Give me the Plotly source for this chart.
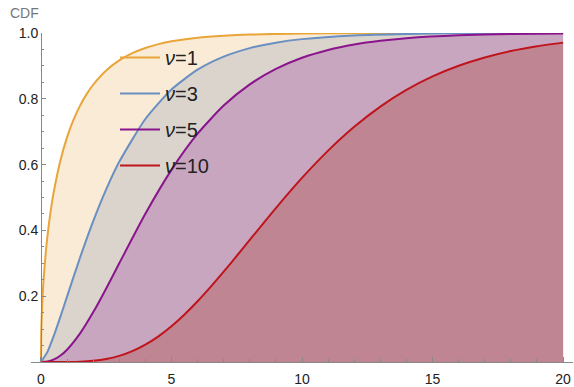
import plotly.graph_objects as go

# Values (CDF curves for nu = 1, 3, 5, 10)
x_nu1 = [0, 0.01, 0.02, 0.05, 0.1, 0.2, 0.3, 0.4, 0.5, 0.75, 1, 1.25, 1.5, 1.75, 2, 2.5, 3, 3.5, 4, 4.5, 5, 6, 7, 8, 9, 10, 12, 14, 16, 18, 20]
y_nu1 = [0, 0.0797, 0.1125, 0.1769, 0.2482, 0.3453, 0.4161, 0.4729, 0.5205, 0.6135, 0.6827, 0.7364, 0.7793, 0.8142, 0.8427, 0.8862, 0.9167, 0.9387, 0.9545, 0.9661, 0.9747, 0.9857, 0.9918, 0.9953, 0.9973, 0.9984, 0.9995, 0.9998, 0.9999, 1.0, 1.0]

x_nu3 = [0, 0.25, 0.5, 0.75, 1, 1.5, 2, 2.5, 3, 4, 5, 6, 7, 8, 9, 10, 12, 14, 16, 18, 20]
y_nu3 = [0, 0.0308, 0.0811, 0.1386, 0.1987, 0.3177, 0.4276, 0.5248, 0.6084, 0.7385, 0.8282, 0.8884, 0.9281, 0.9540, 0.9707, 0.9814, 0.9926, 0.9971, 0.9989, 0.9996, 0.9998]

x_nu5 = [0, 0.25, 0.5, 0.75, 1, 1.5, 2, 2.5, 3, 4, 5, 6, 7, 8, 9, 10, 11, 12, 13, 14, 16, 18, 20]
y_nu5 = [0, 0.0015, 0.0079, 0.0199, 0.0374, 0.0869, 0.1509, 0.2236, 0.3000, 0.4506, 0.5841, 0.6938, 0.7794, 0.8438, 0.8909, 0.9247, 0.9486, 0.9652, 0.9766, 0.9844, 0.9932, 0.9971, 0.9988]

x_nu10 = [0, 0.5, 1, 1.5, 2, 2.5, 3, 3.5, 4, 4.5, 5, 5.5, 6, 6.5, 7, 7.5, 8, 9, 10, 11, 12, 13, 14, 15, 16, 17, 18, 19, 20]
y_nu10 = [0, 0.00001, 0.00017, 0.00106, 0.00366, 0.00912, 0.01858, 0.03289, 0.05265, 0.07801, 0.10882, 0.14462, 0.18474, 0.22835, 0.27456, 0.32244, 0.37116, 0.46790, 0.55951, 0.64248, 0.71494, 0.77633, 0.82701, 0.86794, 0.90037, 0.92564, 0.94504, 0.95974, 0.97075]

series = [
    ("<i>ν</i>=1", x_nu1, y_nu1, "#E8A53A", "#FAEBD7"),
    ("<i>ν</i>=3", x_nu3, y_nu3, "#6A8FC2", "#DAD4CD"),
    ("<i>ν</i>=5", x_nu5, y_nu5, "#8A148C", "#C9A6BF"),
    ("<i>ν</i>=10", x_nu10, y_nu10, "#C0141C", "#BF8593"),
]

line_style = dict(shape="spline", smoothing=0.6)

fig = go.Figure()
# filled areas (painted back to front)
for name, xs, ys, lc, fc in series:
    fig.add_trace(go.Scatter(
        x=xs, y=ys, mode="lines", showlegend=False, hoverinfo="skip",
        line=dict(width=0, color=fc, **line_style),
        fill="tozeroy", fillcolor=fc,
    ))
# curves
for i, (name, xs, ys, lc, fc) in enumerate(series):
    fig.add_trace(go.Scatter(
        x=xs, y=ys, name=name, mode="lines",
        line=dict(color=lc, width=2, **line_style),
        legendgroup=f"g{i}",
    ))

axis_col = "#888888"
fig.update_layout(
    width=574, height=387,
    margin=dict(l=31, r=1, t=33, b=25),
    paper_bgcolor="white", plot_bgcolor="white",
    font=dict(family="Liberation Sans, Arial, sans-serif", size=14, color="#222222"),
    showlegend=True,
    legend=dict(x=0.155, y=0.985, xanchor="left", yanchor="top",
                bgcolor="rgba(0,0,0,0)", font=dict(size=20, color="#222222"),
                tracegroupgap=7, itemwidth=40),
    xaxis=dict(range=[-0.38, 20.38], showgrid=False, zeroline=False, automargin=False,
               showline=True, linecolor=axis_col, linewidth=1,
               ticks="inside", ticklen=5, tickcolor=axis_col,
               tickvals=[0, 5, 10, 15, 20], ticklabelstandoff=4,
               minor=dict(dtick=1, ticks="inside", ticklen=3, tickcolor=axis_col),
               tickfont=dict(size=14, color="#222222")),
    yaxis=dict(range=[0, 1.0], showgrid=False, zeroline=False, automargin=False,
               anchor="free", position=10/542,
               showline=True, linecolor=axis_col, linewidth=1,
               ticks="inside", ticklen=4, tickcolor=axis_col,
               tickvals=[0.2, 0.4, 0.6, 0.8, 1.0], ticktext=["0.2", "0.4", "0.6", "0.8", "1.0"],
               minor=dict(dtick=0.05, ticks="inside", ticklen=2, tickcolor=axis_col),
               tickfont=dict(size=14, color="#222222")),
    annotations=[dict(text="CDF", xref="paper", yref="paper", x=-0.042, y=1.0,
                      xanchor="left", yanchor="bottom", yshift=10, showarrow=False,
                      font=dict(size=14, color="#777777"))],
)

fig.write_html("out.html", config={"displayModeBar": False},
               post_script="document.body.style.margin='0';")
